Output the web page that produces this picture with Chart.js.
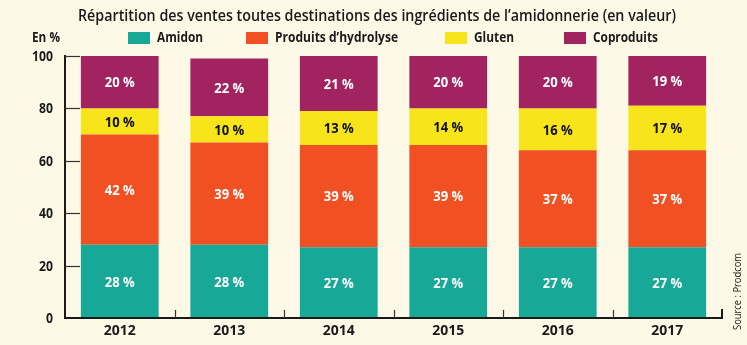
<!DOCTYPE html>
<html>
<head>
<meta charset="utf-8">
<script src="https://cdn.jsdelivr.net/npm/chart.js@4"></script>
<style>
  html, body { margin: 0; padding: 0; background: #fdf9e6; }
  #wrap { width: 747px; height: 345px; }
</style>
</head>
<body>
<div id="wrap"><canvas id="chart1" width="747" height="345"></canvas></div>
<script>
// Données (%)
const annees     = ["2012", "2013", "2014", "2015", "2016", "2017"];
const amidon     = [28, 28, 27, 27, 27, 27];
const hydrolyse  = [42, 39, 39, 39, 37, 37];
const gluten     = [10, 10, 13, 14, 16, 17];
const coproduits = [20, 22, 21, 20, 20, 19];
const graduations = [0, 20, 40, 60, 80, 100];

const FONT = "'Open Sans', 'Roboto', sans-serif";
const INK = "#1a1a1a";

// x de la case, largeur du libellé
const series = [
    { label: "Amidon",                    data: amidon,     color: "#17a898", text: "#ffffff", bx: 128, w: 46 },
    { label: "Produits d\u2019hydrolyse", data: hydrolyse,  color: "#f15122", text: "#ffffff", bx: 246, w: 123 },
    { label: "Gluten",                    data: gluten,     color: "#f8e41b", text: "#111111", bx: 445, w: 40 },
    { label: "Coproduits",                data: coproduits, color: "#a1235f", text: "#ffffff", bx: 564, w: 65 }
];

// texte écrasé horizontalement d'un facteur fx (police étroite simulée)
function texteEtroit(ctx, txt, x, y, fx, align) {
    const w = ctx.measureText(txt).width * fx;
    let x0 = x;
    if (align === "center") x0 = x - w / 2;
    else if (align === "right") x0 = x - w;
    ctx.save();
    ctx.textAlign = "left";
    ctx.translate(x0, y);
    ctx.scale(fx, 1);
    ctx.fillText(txt, 0, 0);
    ctx.restore();
}
function facteur(ctx, txt, largeur) {
    return largeur / ctx.measureText(txt).width;
}

// titre, légende, source
const habillage = {
    id: "habillage",
    afterDraw(chart) {
        const ctx = chart.ctx;
        ctx.save();
        ctx.fillStyle = INK;
        ctx.textBaseline = "alphabetic";

        const titre = "R\u00e9partition des ventes toutes destinations des ingr\u00e9dients de l\u2019amidonnerie (en valeur)";
        ctx.font = "600 17px " + FONT;
        texteEtroit(ctx, titre, 78, 21, facteur(ctx, titre, 598), "left");

        ctx.textBaseline = "middle";
        ctx.font = "bold 14px " + FONT;
        texteEtroit(ctx, "En %", 32, 38, facteur(ctx, "En %", 28), "left");

        series.forEach(s => {
            ctx.fillStyle = s.color;
            ctx.fillRect(s.bx, 32, 22, 12);
            ctx.fillStyle = INK;
            texteEtroit(ctx, s.label, s.bx + 29, 38, facteur(ctx, s.label, s.w), "left");
        });

        ctx.font = "11px " + FONT;
        ctx.translate(738, 330);
        ctx.rotate(-Math.PI / 2);
        texteEtroit(ctx, "Source : Prodcom", 0, 0, facteur(ctx, "Source : Prodcom", 77), "left");
        ctx.restore();
    }
};

// axes avec graduations intérieures et libellés
const axes = {
    id: "axes",
    afterDatasetsDraw(chart) {
        const ctx = chart.ctx;
        const a = chart.chartArea;
        const x = chart.scales.x, y = chart.scales.y;
        ctx.save();
        ctx.strokeStyle = INK;
        ctx.lineWidth = 2;
        ctx.beginPath();
        ctx.moveTo(a.left, y.getPixelForValue(100) - 1);
        ctx.lineTo(a.left, a.bottom);
        ctx.lineTo(a.right, a.bottom);
        ctx.lineTo(a.right, a.bottom - 9);
        ctx.stroke();

        ctx.lineWidth = 1.2;
        ctx.strokeStyle = "#333";
        graduations.slice(1).forEach(v => {
            const py = Math.round(y.getPixelForValue(v)) + 0.5;
            ctx.beginPath();
            ctx.moveTo(a.left, py);
            ctx.lineTo(a.left + 15, py);
            ctx.stroke();
        });
        for (let i = 0; i < annees.length - 1; i++) {
            const px = Math.round((x.getPixelForValue(i) + x.getPixelForValue(i + 1)) / 2) + 0.5;
            ctx.beginPath();
            ctx.moveTo(px, a.bottom);
            ctx.lineTo(px, a.bottom - 8);
            ctx.stroke();
        }

        ctx.fillStyle = INK;
        ctx.textBaseline = "middle";
        ctx.font = "bold 14px " + FONT;
        const fy = facteur(ctx, "100", 21);
        graduations.forEach(v => {
            texteEtroit(ctx, String(v), a.left - 12, y.getPixelForValue(v) + 1, fy, "right");
        });
        const fxl = facteur(ctx, "2012", 32);
        annees.forEach((lab, i) => {
            texteEtroit(ctx, lab, x.getPixelForValue(i), a.bottom + 13, fxl, "center");
        });
        ctx.restore();
    }
};

// étiquettes de valeurs dans les segments
const etiquettes = {
    id: "etiquettes",
    afterDatasetsDraw(chart) {
        const ctx = chart.ctx;
        ctx.save();
        ctx.font = "bold 15px " + FONT;
        ctx.textBaseline = "middle";
        const f = facteur(ctx, "20\u00a0%", 30);
        chart.data.datasets.forEach((ds, di) => {
            const meta = chart.getDatasetMeta(di);
            ctx.fillStyle = series[di].text;
            meta.data.forEach((bar, i) => {
                const cy = (bar.y + bar.base) / 2 + 1;
                texteEtroit(ctx, ds.data[i] + "\u00a0%", bar.x, cy, f, "center");
            });
        });
        ctx.restore();
    }
};

new Chart(document.getElementById("chart1").getContext("2d"), {
    type: "bar",
    data: {
        labels: annees,
        datasets: series.map(s => ({
            label: s.label,
            data: s.data,
            backgroundColor: s.color,
            borderWidth: 0
        }))
    },
    options: {
        responsive: false,
        animation: false,
        layout: { padding: { left: 0, right: 25, top: 56, bottom: 0 } },
        plugins: {
            legend: { display: false },
            title: { display: false },
            tooltip: { enabled: false }
        },
        datasets: {
            bar: { categoryPercentage: 0.71, barPercentage: 1 }
        },
        scales: {
            x: {
                stacked: true,
                grid: { display: false },
                border: { display: false },
                ticks: { display: false },
                afterFit: s => { s.height = 27; }
            },
            y: {
                stacked: true,
                min: 0,
                max: 100,
                grid: { display: false },
                border: { display: false },
                afterBuildTicks: s => { s.ticks = graduations.map(v => ({ value: v })); },
                ticks: { display: false },
                afterFit: s => { s.width = 65; }
            }
        }
    },
    plugins: [habillage, axes, etiquettes]
});
</script>
</body>
</html>
